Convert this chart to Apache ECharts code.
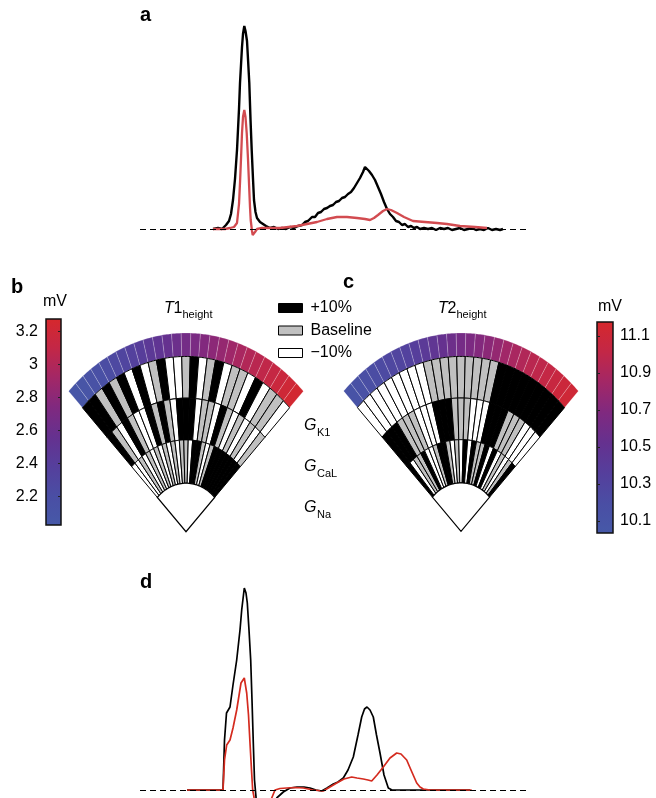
<!DOCTYPE html>
<html>
<head>
<meta charset="utf-8">
<script src="https://cdn.jsdelivr.net/npm/echarts@6/dist/echarts.min.js"></script>
<style>
  html, body { margin: 0; padding: 0; background: #fff; }
  #chart { width: 656px; height: 798px; }
</style>
</head>
<body>
<div id="chart"></div>
<script>
// ---- panel a: simulated ECG, [time ms, amplitude] ----
var aBlack = [[73,0],[78,0.01],[82,0],[86,0.04],[89,0.08],[91,0.15],[93,0.29],[95,0.5],[97,0.79],[99,1.2],[100,1.46],[102,1.82],[103,1.95],[104.3,2.03],[105.5,1.98],[107,1.88],[108,1.7],[109.3,1.46],[110.5,1.1],[111.7,0.79],[113,0.5],[114,0.29],[115.5,0.17],[117,0.11],[120,0.07],[122,0.05],[126,0.03],[130,0.01],[134,0.02],[138,0],[142,0.01],[146,0],[150,0.02],[154,0.01],[158,0.03],[162,0.04],[165,0.07],[168,0.08],[172,0.12],[175,0.12],[178,0.16],[181,0.17],[184,0.2],[187,0.21],[190,0.23],[193,0.24],[196,0.27],[199,0.28],[202,0.31],[205,0.32],[208,0.35],[211,0.37],[214,0.41],[217,0.46],[220,0.51],[223,0.57],[225,0.62],[227,0.61],[229,0.58],[232,0.54],[235,0.49],[238,0.42],[241,0.35],[244,0.27],[247,0.2],[250,0.15],[253,0.12],[256,0.08],[259,0.07],[262,0.04],[265,0.05],[268,0.02],[271,0.03],[274,0.01],[277,0.02],[280,0],[284,0.01],[288,0],[292,0.01],[296,-0.01],[300,0.01],[304,0],[308,0.01],[312,-0.01],[316,0],[320,0.01],[324,-0.01],[328,0],[332,0.01],[336,-0.01],[340,0],[344,-0.01],[348,0.01],[352,-0.01],[356,0],[360,-0.01],[363,0]];
var aRed = [[73,0],[85,0],[90,0.01],[94,0.02],[97,0.06],[99,0.25],[100,0.46],[101,0.7],[102,0.96],[103,1.12],[104.3,1.19],[105.5,1.12],[106.7,0.96],[108,0.7],[109,0.46],[110,0.22],[110.7,0.09],[112,-0.02],[112.7,-0.06],[114,-0.05],[115,-0.03],[117,0],[118,0.02],[122,0.01],[130,0.01],[140,0.01],[157,0.03],[167,0.05],[177,0.07],[187,0.1],[197,0.12],[207,0.12],[217,0.11],[225,0.1],[230,0.09],[234,0.11],[238,0.14],[243,0.18],[247,0.2],[251,0.19],[257,0.16],[264,0.12],[273,0.08],[285,0.07],[297,0.06],[307,0.05],[320,0.03],[335,0.02],[347,0.01]];

// ---- panel d ----
var dBlack = [[47,0],[83,0],[84.5,0.5],[86.5,0.77],[90,0.83],[93,1.05],[96.7,1.3],[100,1.6],[101.7,1.8],[104.3,2.02],[106,1.97],[107.3,1.87],[109,1.6],[110.7,1.3],[112,0.9],[113.3,0.47],[114.5,0.1],[116,-0.07],[117.5,-0.5],[134,-0.5],[136.7,-0.08],[140,-0.05],[143.3,-0.02],[150,0.02],[157,0.03],[164,0.03],[170,0.02],[176,0],[181.7,-0.01],[187,0.02],[193.3,0.06],[198,0.08],[203.3,0.12],[208,0.2],[213.3,0.33],[218,0.55],[221.7,0.73],[224.5,0.81],[227,0.83],[230,0.8],[233.3,0.73],[236.5,0.55],[240,0.37],[244,0.15],[248.3,0.02],[252,0],[257,0],[330,0]];
var dRed = [[47,0],[83,0],[84.5,0.3],[86.7,0.45],[90,0.5],[93,0.62],[96.7,0.8],[101,1.07],[104.3,1.12],[106.7,0.97],[108.5,0.75],[110,0.47],[111.5,0.2],[112.7,0],[114,-0.07],[115,-0.5],[130,-0.5],[131.7,-0.08],[135,0],[140,0.015],[146.7,0.02],[155,0.025],[163.3,0.02],[173,0],[183.3,-0.01],[190,0.03],[196.7,0.07],[204,0.11],[211.7,0.13],[217,0.12],[223.3,0.11],[228,0.1],[231.7,0.09],[237,0.15],[243.3,0.23],[250,0.32],[256.7,0.37],[261,0.36],[266.7,0.3],[271,0.2],[276.7,0.07],[280,0.03],[283.3,0.01],[290,0],[331.7,0]];

// ---- fans: 27 parameter sets sorted by output, 1 = +10%, 0 = baseline, -1 = -10% ----
var t1Height = [2.07,2.1,2.14,2.18,2.22,2.27,2.31,2.36,2.41,2.46,2.51,2.56,2.61,2.66,2.7,2.75,2.8,2.85,2.9,2.95,3.0,3.04,3.08,3.12,3.16,3.2,3.24];
var t1K1  = [1,1,0,1,0,1,-1,1,-1,0,1,-1,-1,0,1,-1,0,1,-1,0,0,-1,1,-1,0,0,-1];
var t1CaL = [1,0,-1,1,0,-1,-1,1,0,1,0,-1,1,1,1,-1,0,0,-1,1,0,-1,0,-1,0,-1,0];
var t1Na  = [-1,-1,0,-1,0,-1,0,-1,0,-1,0,-1,0,0,-1,1,1,0,-1,0,1,1,1,1,1,1,1];

var t2Height = [10.12,10.15,10.18,10.21,10.24,10.27,10.3,10.33,10.37,10.42,10.47,10.52,10.57,10.62,10.66,10.7,10.74,10.78,10.84,10.88,10.92,10.96,10.99,11.02,11.05,11.08,11.11];
var t2K1  = [-1,-1,-1,-1,-1,-1,-1,-1,-1,0,0,0,0,0,0,0,0,0,1,1,1,1,1,1,1,1,1];
var t2CaL = [1,1,1,0,0,0,-1,-1,-1,1,1,1,0,0,0,-1,-1,-1,1,1,1,0,0,0,-1,-1,-1];
var t2Na  = [1,-1,0,0,1,-1,-1,0,1,1,0,-1,0,-1,1,-1,1,0,0,1,-1,1,-1,0,-1,0,1];

// colour bar ranges (mV) and tick labels
var t1Range = [2.028, 3.275];
var t2Range = [10.035, 11.176];
var t1Ticks = [2.2, 2.4, 2.6, 2.8, 3, 3.2];
var t2Ticks = [10.1, 10.3, 10.5, 10.7, 10.9, 11.1];

var CMAP = ['#4659a8', '#4a4ea4', '#553f9c', '#65318f', '#80297f', '#a32766', '#c32746', '#d6282c'];
var FILL = { '1': '#000', '0': '#c0c0c0', '-1': '#fff' };
var RINGS = [[0.672, 0.882], [0.462, 0.672], [0.244, 0.462]];
var COLOR_RING = [0.882, 1.0];
var NSEG = 27;
var FONT = 'Liberation Sans, Arial, Helvetica, sans-serif';

function wedge(api, s0, s1, r0, r1, n) {
  n = n || 6;
  var a0 = (-45 + s0 * 90 / NSEG) * Math.PI / 180;
  var a1 = (-45 + s1 * 90 / NSEG) * Math.PI / 180;
  var pts = [], k, a;
  for (k = 0; k <= n; k++) {
    a = a0 + (a1 - a0) * k / n;
    pts.push(api.coord([r1 * Math.sin(a), r1 * Math.cos(a)]));
  }
  for (k = n; k >= 0; k--) {
    a = a0 + (a1 - a0) * k / n;
    pts.push(api.coord([r0 * Math.sin(a), r0 * Math.cos(a)]));
  }
  return pts;
}

function cellData(k1, cal, na) {
  var out = [];
  for (var i = 0; i < NSEG; i++) {
    out.push([i, 0, k1[i]]);
    out.push([i, 1, cal[i]]);
    out.push([i, 2, na[i]]);
  }
  return out;
}

function ringData(vals) {
  return vals.map(function (v, i) { return [i, v]; });
}

function renderRing(params, api) {
  var s = api.value(0);
  return {
    type: 'polygon',
    shape: { points: wedge(api, s, s + 1, COLOR_RING[0], COLOR_RING[1]) },
    style: { fill: api.visual('color'), stroke: 'rgba(255,255,255,0.4)', lineWidth: 0.5 }
  };
}

function renderCell(params, api) {
  var s = api.value(0), r = RINGS[api.value(1)];
  return {
    type: 'polygon',
    shape: { points: wedge(api, s, s + 1, r[0], r[1]) },
    style: { fill: FILL[api.value(2)], stroke: '#000', lineWidth: 1 }
  };
}

function renderInner(params, api) {
  return {
    type: 'polygon',
    shape: { points: wedge(api, 0, NSEG, 0, RINGS[2][0], 40) },
    style: { fill: '#fff', stroke: '#000', lineWidth: 1.2 }
  };
}

function renderBar(params, api) {
  var p0 = api.coord([0, api.value(0)]);
  var p1 = api.coord([1, api.value(1)]);
  var stops = CMAP.map(function (c, i) { return { offset: i / (CMAP.length - 1), color: c }; });
  return {
    type: 'rect',
    shape: { x: p0[0], y: p1[1], width: p1[0] - p0[0], height: p0[1] - p1[1] },
    style: { fill: new echarts.graphic.LinearGradient(0, 1, 0, 0, stops), stroke: '#111', lineWidth: 1.5 }
  };
}

function lineSeries(data, color, width, xi, mark) {
  var s = {
    type: 'line', data: data, xAxisIndex: xi, yAxisIndex: xi,
    showSymbol: false, symbol: 'none', clip: true, silent: true,
    lineStyle: { color: color, width: width }, z: 3
  };
  if (mark) {
    s.markLine = {
      silent: true, symbol: 'none', label: { show: false },
      lineStyle: { color: '#000', width: 1.2, type: [6, 4] },
      data: [{ yAxis: 0 }]
    };
  }
  return s;
}

function hiddenAxis(idx, min, max) {
  return { type: 'value', gridIndex: idx, min: min, max: max, show: false };
}

function label(x, y, text, font, extra) {
  var style = { text: text, font: font + ' ' + FONT, fill: '#000', verticalAlign: 'middle' };
  if (extra) style.align = extra;
  return { type: 'text', x: x, y: y, style: style };
}

var tickStyle = { inside: true, length: 3, lineStyle: { color: '#222', width: 1 } };

var option = {
  animation: false,
  grid: [
    { left: 140, top: 19, width: 390, height: 220 },
    { left: 140, top: 580, width: 390, height: 218 },
    { left: 20, top: 333, width: 332, height: 198.7 },
    { left: 295, top: 333, width: 332, height: 198.3 },
    { left: 46, top: 319, width: 15, height: 206 },
    { left: 597, top: 322, width: 16, height: 211 }
  ],
  xAxis: [
    hiddenAxis(0, 0, 390), hiddenAxis(1, 0, 390),
    hiddenAxis(2, -1, 1), hiddenAxis(3, -1, 1),
    hiddenAxis(4, 0, 1), hiddenAxis(5, 0, 1)
  ],
  yAxis: [
    hiddenAxis(0, -0.1, 2.1), hiddenAxis(1, -0.08, 2.1),
    hiddenAxis(2, 0, 1), hiddenAxis(3, 0, 1),
    {
      type: 'value', gridIndex: 4, min: t1Range[0], max: t1Range[1], position: 'left', z: 5,
      axisLine: { show: false }, splitLine: { show: false }, axisTick: { show: false },
      axisLabel: { customValues: t1Ticks, color: '#000', fontSize: 16, fontFamily: FONT, margin: 8,
        formatter: function (v) { return String(Math.round(v * 10) / 10); } }
    },
    {
      type: 'value', gridIndex: 4, min: t1Range[0], max: t1Range[1], position: 'right', z: 5,
      axisLine: { show: false }, splitLine: { show: false }, axisLabel: { show: false },
      axisTick: Object.assign({ customValues: t1Ticks }, tickStyle)
    },
    {
      type: 'value', gridIndex: 5, min: t2Range[0], max: t2Range[1], position: 'right', z: 5,
      axisLine: { show: false }, splitLine: { show: false }, axisTick: { show: false },
      axisLabel: { customValues: t2Ticks, color: '#000', fontSize: 16, fontFamily: FONT, margin: 7,
        formatter: function (v) { return (Math.round(v * 10) / 10).toFixed(1); } }
    },
    {
      type: 'value', gridIndex: 5, min: t2Range[0], max: t2Range[1], position: 'left', z: 5,
      axisLine: { show: false }, splitLine: { show: false }, axisLabel: { show: false },
      axisTick: Object.assign({ customValues: t2Ticks }, tickStyle)
    }
  ],
  visualMap: [
    { type: 'continuous', show: false, seriesIndex: 4, dimension: 1, min: t1Range[0], max: t1Range[1], inRange: { color: CMAP } },
    { type: 'continuous', show: false, seriesIndex: 7, dimension: 1, min: t2Range[0], max: t2Range[1], inRange: { color: CMAP } }
  ],
  legend: {
    orient: 'vertical', left: 273, top: 295, itemWidth: 24, itemHeight: 9, itemGap: 6.5,
    selectedMode: false, icon: 'rect',
    textStyle: { fontSize: 16, color: '#000', fontFamily: FONT, padding: [0, 0, 0, 3] },
    data: [
      { name: '+10%', itemStyle: { color: '#000', borderColor: '#000', borderWidth: 1 } },
      { name: 'Baseline', itemStyle: { color: '#c0c0c0', borderColor: '#000', borderWidth: 1 } },
      { name: '\u221210%', itemStyle: { color: '#fff', borderColor: '#000', borderWidth: 1 } }
    ]
  },
  series: [
    lineSeries(aBlack, '#000', 2.4, 0, true),
    lineSeries(aRed, '#d24b50', 2.3, 0, false),
    lineSeries(dBlack, '#000', 1.7, 1, true),
    lineSeries(dRed, '#d42b1f', 1.7, 1, false),
    { type: 'custom', xAxisIndex: 2, yAxisIndex: 2, data: ringData(t1Height), renderItem: renderRing, silent: true },
    { type: 'custom', xAxisIndex: 2, yAxisIndex: 2, data: cellData(t1K1, t1CaL, t1Na), renderItem: renderCell, silent: true },
    { type: 'custom', xAxisIndex: 2, yAxisIndex: 2, data: [[0, 0]], renderItem: renderInner, silent: true },
    { type: 'custom', xAxisIndex: 3, yAxisIndex: 3, data: ringData(t2Height), renderItem: renderRing, silent: true },
    { type: 'custom', xAxisIndex: 3, yAxisIndex: 3, data: cellData(t2K1, t2CaL, t2Na), renderItem: renderCell, silent: true },
    { type: 'custom', xAxisIndex: 3, yAxisIndex: 3, data: [[0, 0]], renderItem: renderInner, silent: true },
    { type: 'custom', xAxisIndex: 4, yAxisIndex: 4, data: [t1Range], renderItem: renderBar, silent: true, z: 2 },
    { type: 'custom', xAxisIndex: 5, yAxisIndex: 6, data: [t2Range], renderItem: renderBar, silent: true, z: 2 },
    { type: 'custom', name: '+10%', xAxisIndex: 2, yAxisIndex: 2, data: [], renderItem: function () { return null; },
      itemStyle: { color: '#000', borderColor: '#000', borderWidth: 1 } },
    { type: 'custom', name: 'Baseline', xAxisIndex: 2, yAxisIndex: 2, data: [], renderItem: function () { return null; },
      itemStyle: { color: '#c0c0c0', borderColor: '#000', borderWidth: 1 } },
    { type: 'custom', name: '\u221210%', xAxisIndex: 2, yAxisIndex: 2, data: [], renderItem: function () { return null; },
      itemStyle: { color: '#fff', borderColor: '#000', borderWidth: 1 } }
  ],
  graphic: [
    label(140, 15, 'a', 'bold 20px'),
    label(11, 287, 'b', 'bold 20px'),
    label(343, 282, 'c', 'bold 20px'),
    label(140, 582, 'd', 'bold 20px'),
    label(55, 302, 'mV', '16px', 'center'),
    label(610, 307, 'mV', '16px', 'center'),
    label(164, 308.5, 'T', 'italic 16px'),
    label(173.5, 308.5, '1', '16px'),
    label(182.5, 315, 'height', '11px'),
    label(438, 308.5, 'T', 'italic 16px'),
    label(447.5, 308.5, '2', '16px'),
    label(456.5, 315, 'height', '11px'),
    label(304, 426, 'G', 'italic 16px'),
    label(317, 433, 'K1', '11px'),
    label(304, 467, 'G', 'italic 16px'),
    label(317, 474, 'CaL', '11px'),
    label(304, 508, 'G', 'italic 16px'),
    label(317, 515, 'Na', '11px')
  ]
};

var chart = echarts.init(document.getElementById('chart'));
chart.setOption(option);
</script>
</body>
</html>
